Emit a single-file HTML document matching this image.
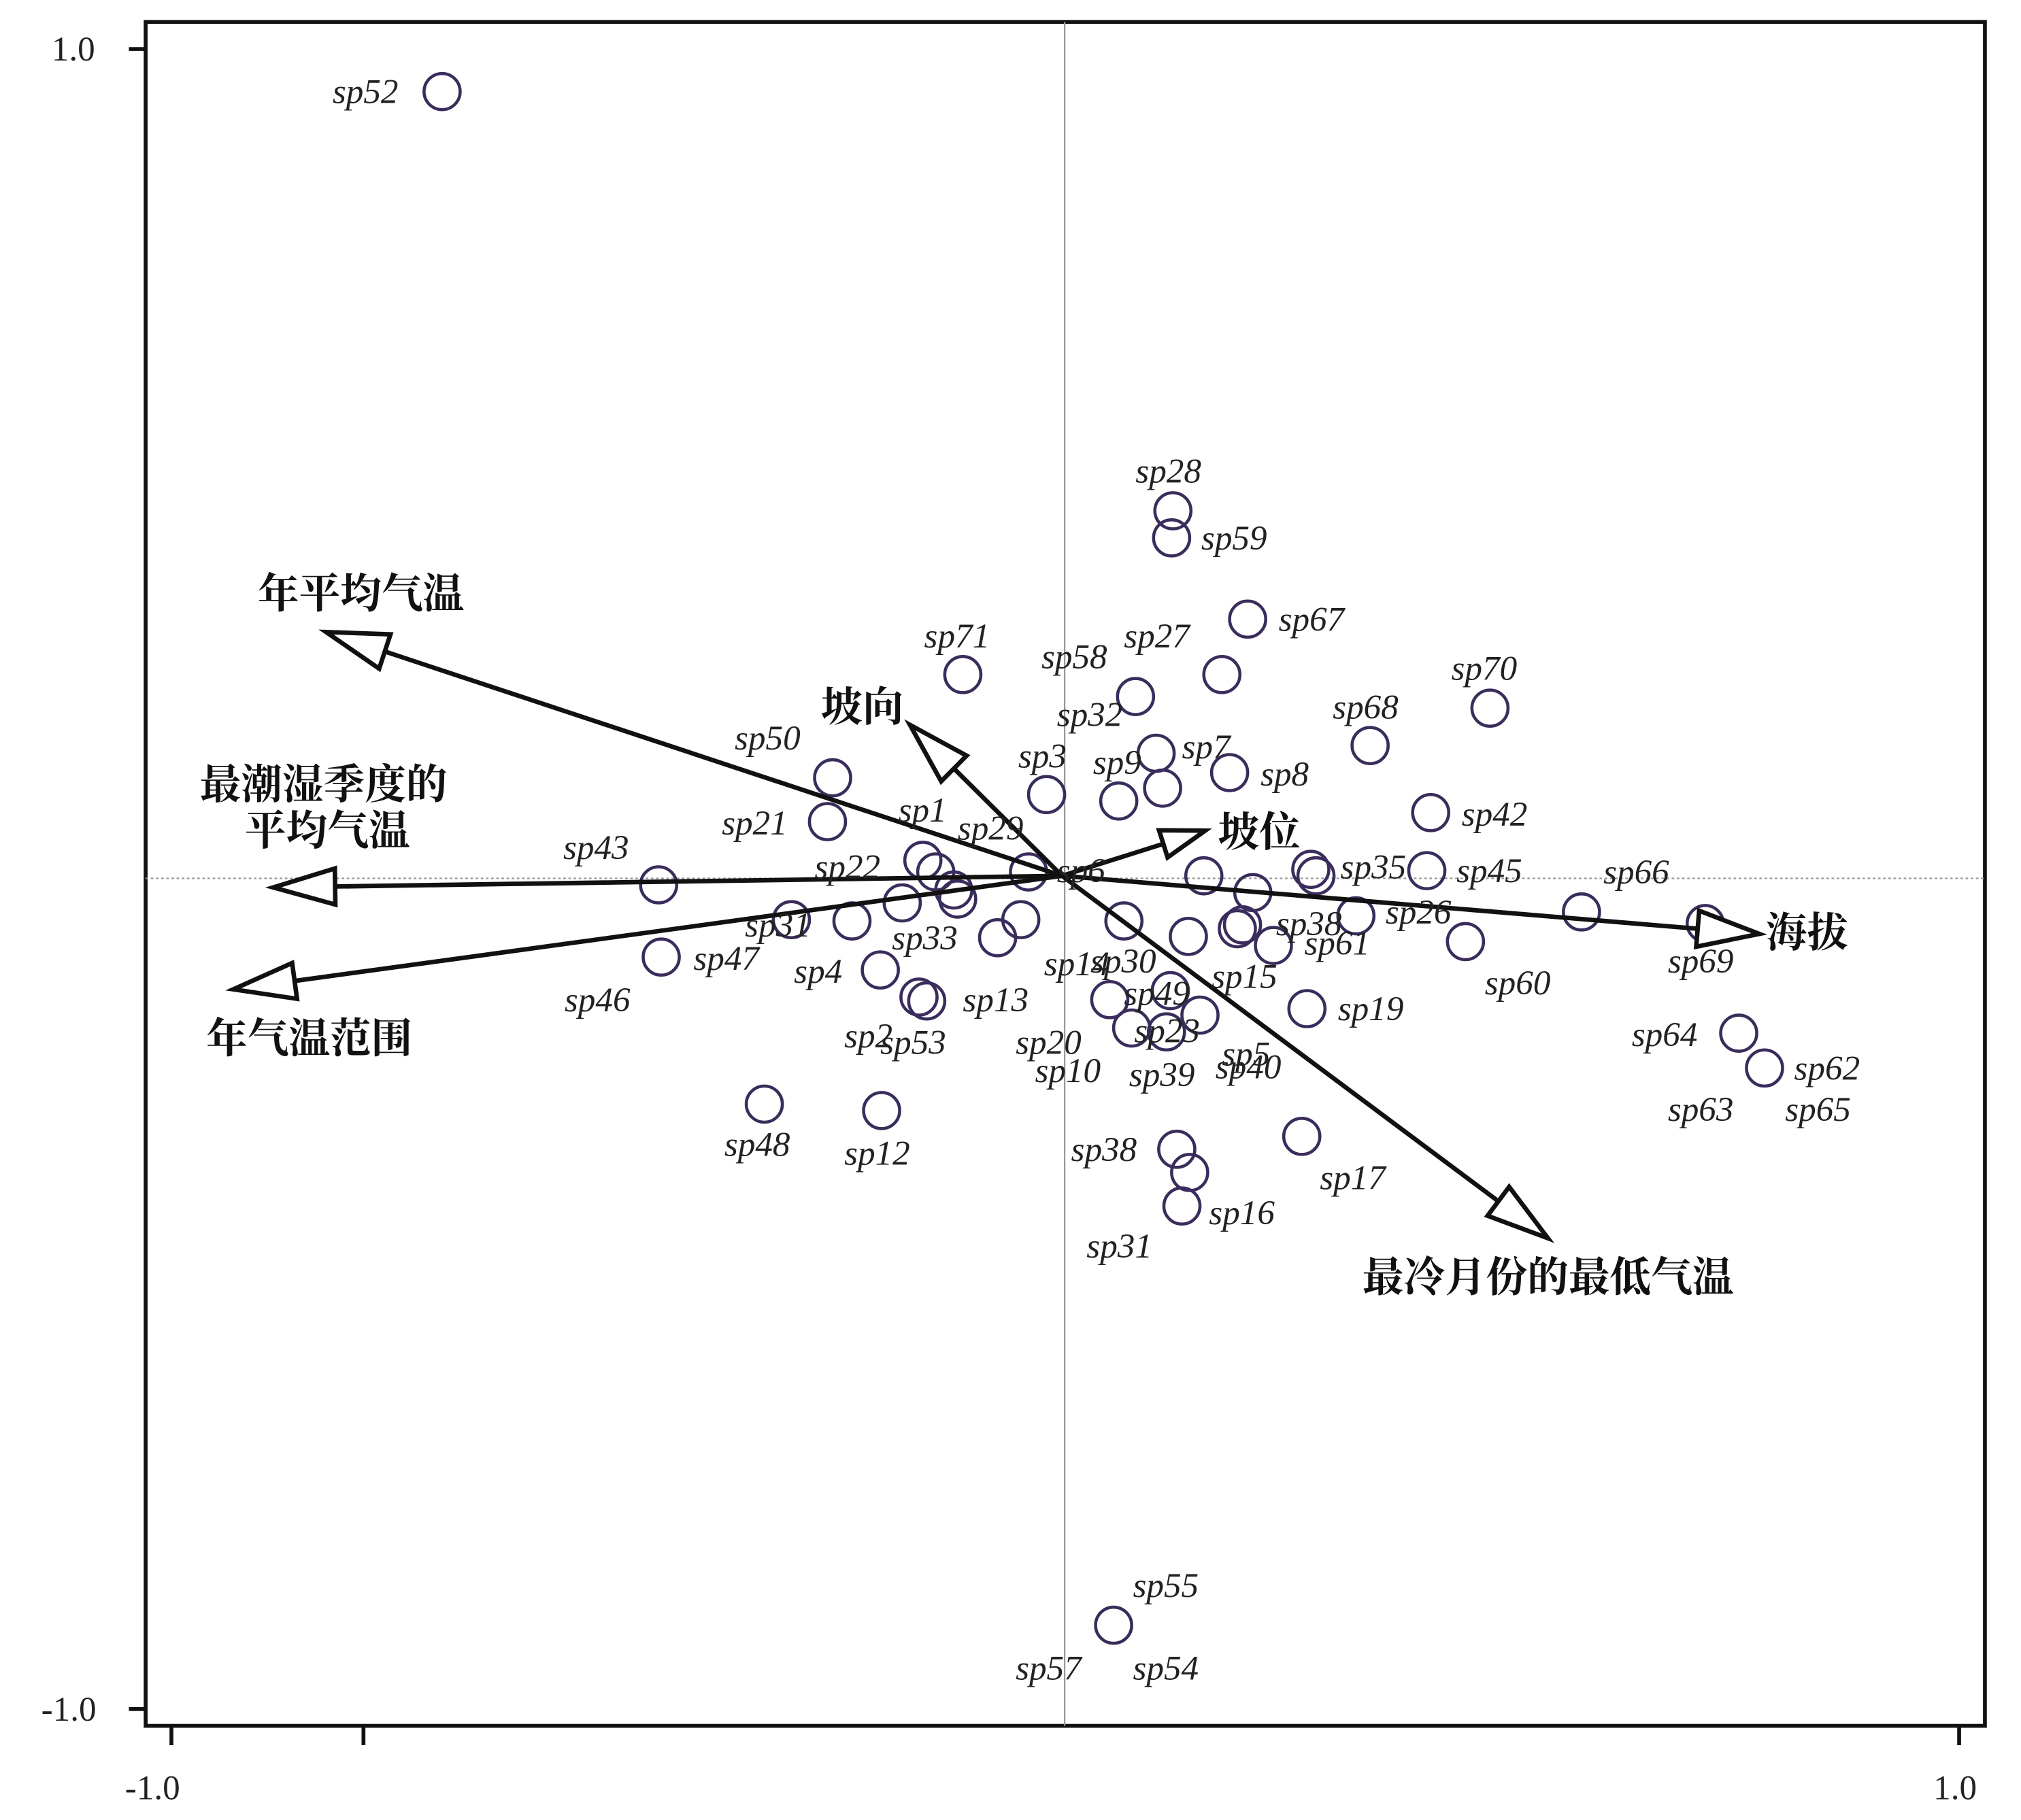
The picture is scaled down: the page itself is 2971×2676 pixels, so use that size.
<!DOCTYPE html>
<html><head><meta charset="utf-8"><style>
html,body{margin:0;padding:0;background:#fff;}
svg{display:block;}
.lb{font-family:"Liberation Serif",serif;font-style:italic;font-size:27px;fill:#222;}
.cn{font-family:"Liberation Serif","Noto Serif CJK SC",serif;font-size:32px;font-weight:bold;fill:#111;}
.tk{font-family:"Liberation Serif",serif;font-size:27px;fill:#222;}
</style></head><body>
<svg id="s" width="2971" height="2676" viewBox="0 0 1568 1411" preserveAspectRatio="none" xmlns="http://www.w3.org/2000/svg">
<rect x="113" y="17" width="1427" height="1321" fill="none" stroke="#111" stroke-width="3"/>
<line x1="826" y1="17" x2="826" y2="1338" stroke="#999" stroke-width="1.2"/>
<line x1="113" y1="681" x2="1540" y2="681" stroke="#999" stroke-width="1.2" stroke-dasharray="2,2"/>
<line x1="100" y1="38" x2="113" y2="38" stroke="#111" stroke-width="3"/>
<line x1="100" y1="1325" x2="113" y2="1325" stroke="#111" stroke-width="3"/>
<line x1="133" y1="1338" x2="133" y2="1353" stroke="#111" stroke-width="3"/>
<line x1="282" y1="1338" x2="282" y2="1353" stroke="#111" stroke-width="3"/>
<line x1="1520" y1="1338" x2="1520" y2="1353" stroke="#111" stroke-width="3"/>
<text class="tk" x="40" y="47">1.0</text>
<text class="tk" x="32" y="1334">-1.0</text>
<text class="tk" x="97" y="1395">-1.0</text>
<text class="tk" x="1500" y="1395">1.0</text>
<g id="g"></g>
<text class="lb" x="258" y="80">sp52</text><text class="lb" x="881" y="374">sp28</text><text class="lb" x="932" y="426">sp59</text>
<text class="lb" x="992" y="489">sp67</text><text class="lb" x="717" y="502">sp71</text><text class="lb" x="808" y="518">sp58</text>
<text class="lb" x="872" y="502">sp27</text><text class="lb" x="820" y="563">sp32</text><text class="lb" x="1126" y="527">sp70</text>
<text class="lb" x="1034" y="557">sp68</text><text class="lb" x="570" y="581">sp50</text><text class="lb" x="790" y="595">sp3</text>
<text class="lb" x="848" y="600">sp9</text><text class="lb" x="917" y="588">sp7</text><text class="lb" x="978" y="609">sp8</text>
<text class="lb" x="1134" y="640">sp42</text><text class="lb" x="560" y="647">sp21</text><text class="lb" x="697" y="637">sp1</text>
<text class="lb" x="743" y="651">sp29</text><text class="lb" x="437" y="666">sp43</text><text class="lb" x="632" y="681">sp22</text>
<text class="lb" x="1040" y="681">sp35</text><text class="lb" x="1130" y="684">sp45</text><text class="lb" x="1244" y="685">sp66</text>
<text class="lb" x="1075" y="716">sp26</text><text class="lb" x="1012" y="740">sp61</text><text class="lb" x="990" y="725">sp38</text>
<text class="lb" x="1152" y="771">sp60</text><text class="lb" x="1294" y="754">sp69</text><text class="lb" x="1038" y="791">sp19</text>
<text class="lb" x="940" y="766">sp15</text><text class="lb" x="1266" y="811">sp64</text><text class="lb" x="1392" y="837">sp62</text>
<text class="lb" x="1294" y="869">sp63</text><text class="lb" x="1385" y="869">sp65</text><text class="lb" x="538" y="752">sp47</text>
<text class="lb" x="438" y="784">sp46</text><text class="lb" x="616" y="762">sp4</text><text class="lb" x="692" y="736">sp33</text>
<text class="lb" x="747" y="784">sp13</text><text class="lb" x="655" y="812">sp2</text><text class="lb" x="683" y="817">sp53</text>
<text class="lb" x="788" y="817">sp20</text><text class="lb" x="803" y="839">sp10</text><text class="lb" x="810" y="756">sp14</text>
<text class="lb" x="846" y="754">sp30</text><text class="lb" x="872" y="779">sp49</text><text class="lb" x="948" y="826">sp5</text>
<text class="lb" x="943" y="836">sp40</text><text class="lb" x="876" y="842">sp39</text><text class="lb" x="880" y="808">sp23</text>
<text class="lb" x="562" y="896">sp48</text><text class="lb" x="655" y="903">sp12</text><text class="lb" x="831" y="900">sp38</text>
<text class="lb" x="1024" y="922">sp17</text><text class="lb" x="938" y="949">sp16</text><text class="lb" x="843" y="975">sp31</text>
<text class="lb" x="879" y="1238">sp55</text><text class="lb" x="788" y="1302">sp57</text><text class="lb" x="879" y="1302">sp54</text>
<text class="lb" x="578" y="726">sp31</text><text class="lb" x="820" y="684">sp6</text>
<text class="cn" x="200" y="471">年平均气温</text>
<text class="cn" x="637" y="559">坡向</text>
<text class="cn" x="155" y="619">最潮湿季度的</text>
<text class="cn" x="190" y="655">平均气温</text>
<text class="cn" x="160" y="816">年气温范围</text>
<text class="cn" x="945" y="656">坡位</text>
<text class="cn" x="1370" y="734">海拔</text>
<text class="cn" x="1057" y="1001">最冷月份的最低气温</text>
</svg>
<script>
var g=document.getElementById('g'),ns="http://www.w3.org/2000/svg";
function el(t,a){var e=document.createElementNS(ns,t);for(var k in a)e.setAttribute(k,a[k]);g.appendChild(e);}
var c=[[343,71],[910,396],[909,417],[968,480],[747,523],[881,540],[948,523],[1156,549],[1063,578],[646,603],[812,616],[897,584],[902,611],[868,621],[954,599],[1110,630],[642,637],[511,686],[716,667],[726,676],[740,690],[743,697],[700,700],[661,714],[614,713],[792,713],[774,727],[683,752],[713,773],[719,776],[872,714],[922,726],[934,679],[972,692],[964,717],[988,733],[1017,674],[1021,679],[1052,710],[1107,675],[1137,730],[1227,707],[1323,716],[1014,782],[931,787],[905,800],[878,797],[861,775],[908,768],[1010,881],[913,891],[923,909],[917,935],[593,856],[684,861],[513,742],[864,1260],[1349,801],[1369,828],[960,720],[798,676]];
c.forEach(function(p){el('circle',{cx:p[0],cy:p[1],r:14,fill:'none',stroke:'#3a2d5c','stroke-width':2.4});});
var o=[824,679],A=[[253,490],[706,562],[212,688],[181,767],[935,644],[1365,724],[1201,960]];
A.forEach(function(p){var dx=p[0]-o[0],dy=p[1]-o[1],L=Math.hypot(dx,dy),ux=dx/L,uy=dy/L,h=48,w=14;
var bx=p[0]-ux*h,by=p[1]-uy*h;if(L<140){h=34;w=11;bx=p[0]-ux*h;by=p[1]-uy*h;}
el('line',{x1:o[0],y1:o[1],x2:bx,y2:by,stroke:'#111','stroke-width':3.5});
el('polygon',{points:p[0]+','+p[1]+' '+(bx-uy*w)+','+(by+ux*w)+' '+(bx+uy*w)+','+(by-ux*w),fill:'#fff',stroke:'#111','stroke-width':3.5});});
</script>
</body></html>
